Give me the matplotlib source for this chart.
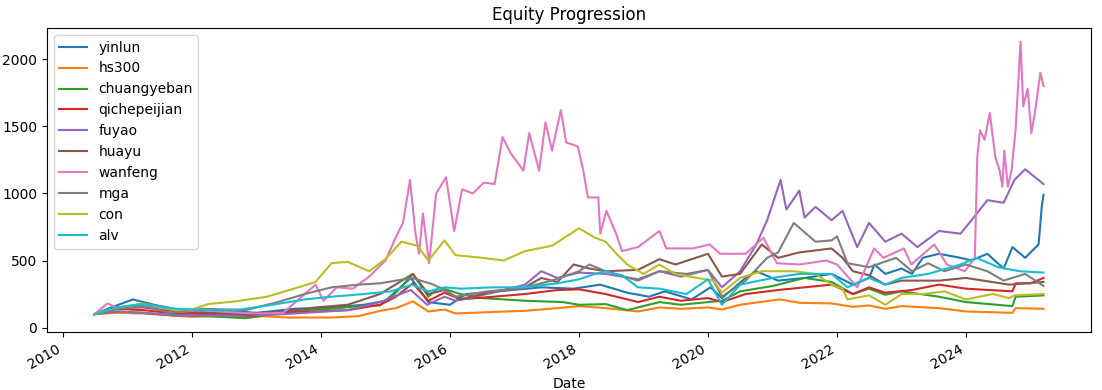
import matplotlib
matplotlib.use("Agg")
import matplotlib.pyplot as plt
import matplotlib.dates as mdates
import pandas as pd

# (date, normalised equity) key points, start = 100
yinlun = [("2010-06-28", 100), ("2010-10-01", 150), ("2011-02-01", 210), ("2011-06-01", 170),
          ("2011-11-01", 130), ("2012-06-01", 130), ("2013-01-01", 110), ("2013-08-01", 140),
          ("2014-03-01", 150), ("2014-09-01", 170), ("2015-01-01", 200), ("2015-05-25", 370),
          ("2015-09-01", 190), ("2016-01-01", 170), ("2016-04-01", 250), ("2016-10-01", 270),
          ("2017-06-01", 300), ("2017-12-01", 290), ("2018-05-01", 320), ("2018-10-01", 260),
          ("2019-02-01", 230), ("2019-05-01", 270), ("2019-10-01", 210), ("2020-01-15", 300),
          ("2020-03-20", 220), ("2020-08-01", 370), ("2020-10-01", 420), ("2021-02-01", 350),
          ("2021-07-01", 370), ("2021-12-01", 400), ("2022-04-01", 320), ("2022-07-01", 370),
          ("2022-08-01", 470), ("2022-10-01", 400), ("2023-01-01", 440), ("2023-03-01", 400),
          ("2023-05-01", 520), ("2023-08-01", 550), ("2023-12-01", 520), ("2024-02-01", 500),
          ("2024-05-01", 550), ("2024-08-01", 440), ("2024-09-20", 600), ("2024-12-01", 520),
          ("2025-02-15", 620), ("2025-03-05", 900), ("2025-03-15", 990)]

hs300 = [("2010-06-28", 100), ("2010-11-01", 110), ("2011-04-01", 105), ("2011-09-01", 90),
         ("2012-01-01", 80), ("2012-05-01", 85), ("2012-11-01", 75), ("2013-02-01", 85),
         ("2013-07-01", 75), ("2014-03-01", 75), ("2014-08-01", 85), ("2014-12-01", 125),
         ("2015-03-01", 145), ("2015-06-05", 195), ("2015-09-01", 120), ("2015-12-01", 135),
         ("2016-02-01", 105), ("2016-08-01", 115), ("2017-03-01", 125), ("2017-09-01", 145),
         ("2018-01-01", 160), ("2018-06-01", 145), ("2018-12-01", 120), ("2019-04-01", 150),
         ("2019-08-01", 140), ("2020-01-01", 150), ("2020-03-20", 135), ("2020-07-01", 170),
         ("2021-02-10", 210), ("2021-06-01", 185), ("2021-12-01", 180), ("2022-04-01", 155),
         ("2022-07-01", 165), ("2022-10-01", 140), ("2023-01-01", 160), ("2023-08-01", 145),
         ("2024-01-01", 120), ("2024-09-20", 110), ("2024-10-08", 145), ("2025-03-15", 140)]

chuangyeban = [("2010-06-28", 100), ("2010-11-01", 120), ("2011-04-01", 110), ("2011-10-01", 90),
               ("2012-04-01", 85), ("2012-11-01", 70), ("2013-05-01", 105), ("2013-10-01", 130),
               ("2014-03-01", 140), ("2014-08-01", 160), ("2014-12-01", 165), ("2015-03-01", 260),
               ("2015-06-05", 400), ("2015-09-01", 230), ("2015-11-01", 300), ("2016-03-01", 250),
               ("2016-07-01", 220), ("2017-03-01", 200), ("2017-10-01", 190), ("2018-01-01", 170),
               ("2018-06-01", 175), ("2018-10-01", 130), ("2019-04-01", 190), ("2019-08-01", 170),
               ("2020-01-01", 190), ("2020-03-20", 200), ("2020-07-01", 270), ("2021-01-01", 310),
               ("2021-07-01", 370), ("2021-12-01", 340), ("2022-04-01", 250), ("2022-07-01", 290),
               ("2022-10-01", 245), ("2023-01-01", 270), ("2023-08-01", 230), ("2024-01-01", 190),
               ("2024-09-20", 160), ("2024-10-08", 230), ("2025-03-15", 240)]

qichepeijian = [("2010-06-28", 100), ("2010-11-01", 140), ("2011-04-01", 130), ("2011-10-01", 105),
                ("2012-06-01", 100), ("2012-12-01", 85), ("2013-06-01", 110), ("2013-12-01", 120),
                ("2014-06-01", 130), ("2014-12-01", 170), ("2015-03-01", 230), ("2015-06-05", 330),
                ("2015-09-01", 200), ("2015-12-01", 260), ("2016-03-01", 210), ("2016-09-01", 230),
                ("2017-03-01", 250), ("2017-09-01", 280), ("2018-01-01", 285), ("2018-06-01", 250),
                ("2018-12-01", 190), ("2019-04-01", 230), ("2019-08-01", 200), ("2020-01-01", 220),
                ("2020-03-20", 190), ("2020-08-01", 250), ("2021-02-01", 280), ("2021-07-01", 300),
                ("2021-12-01", 320), ("2022-04-01", 250), ("2022-07-01", 300), ("2022-10-01", 260),
                ("2023-03-01", 280), ("2023-08-01", 320), ("2024-01-01", 290), ("2024-09-20", 270),
                ("2024-10-08", 330), ("2025-01-01", 330), ("2025-03-15", 370)]

fuyao = [("2010-06-28", 100), ("2010-11-01", 120), ("2011-04-01", 110), ("2011-10-01", 90),
         ("2012-06-01", 90), ("2012-12-01", 90), ("2013-06-01", 100), ("2013-12-01", 115),
         ("2014-06-01", 130), ("2014-12-01", 190), ("2015-05-25", 280), ("2015-08-25", 170),
         ("2015-12-01", 230), ("2016-02-01", 200), ("2016-09-01", 260), ("2017-03-01", 320),
         ("2017-06-01", 420), ("2017-09-01", 370), ("2018-01-01", 410), ("2018-06-01", 400),
         ("2018-12-01", 360), ("2019-04-01", 420), ("2019-08-01", 380), ("2020-01-01", 430),
         ("2020-03-20", 300), ("2020-07-01", 420), ("2020-10-01", 620), ("2020-12-01", 800),
         ("2021-02-15", 1100), ("2021-03-20", 880), ("2021-06-01", 1020), ("2021-07-01", 820),
         ("2021-09-01", 900), ("2021-12-01", 800), ("2022-02-01", 870), ("2022-04-25", 600),
         ("2022-07-01", 780), ("2022-10-01", 640), ("2023-01-01", 700), ("2023-04-01", 600),
         ("2023-08-01", 720), ("2023-12-01", 700), ("2024-02-01", 800), ("2024-05-01", 950),
         ("2024-08-01", 930), ("2024-10-01", 1100), ("2024-12-01", 1180), ("2025-03-15", 1070)]

huayu = [("2010-06-28", 100), ("2010-11-01", 150), ("2011-04-01", 150), ("2011-10-01", 120),
         ("2012-06-01", 110), ("2012-12-01", 95), ("2013-06-01", 120), ("2013-12-01", 150),
         ("2014-06-01", 170), ("2014-12-01", 250), ("2015-06-05", 400), ("2015-09-01", 250),
         ("2015-12-01", 280), ("2016-03-01", 210), ("2016-09-01", 270), ("2017-03-01", 300),
         ("2017-06-01", 370), ("2017-09-01", 340), ("2017-12-01", 470), ("2018-03-01", 440),
         ("2018-06-01", 420), ("2018-12-01", 430), ("2019-04-01", 510), ("2019-07-01", 470),
         ("2020-01-01", 550), ("2020-03-20", 380), ("2020-07-01", 400), ("2020-11-01", 620),
         ("2021-02-01", 520), ("2021-06-01", 560), ("2021-12-01", 590), ("2022-02-01", 520),
         ("2022-04-01", 420), ("2022-07-01", 390), ("2022-10-01", 320), ("2023-01-01", 350),
         ("2023-08-01", 350), ("2024-01-01", 370), ("2024-09-01", 320), ("2025-03-15", 340)]

wanfeng = [("2010-06-28", 100), ("2010-09-10", 180), ("2010-11-01", 150), ("2011-03-01", 160),
           ("2011-07-01", 150), ("2011-11-01", 120), ("2012-03-01", 130), ("2012-08-01", 115),
           ("2013-01-01", 105), ("2013-06-01", 110), ("2013-12-01", 320), ("2014-01-15", 200),
           ("2014-04-01", 300), ("2014-07-01", 290), ("2014-10-01", 380), ("2015-01-01", 500),
           ("2015-03-10", 700), ("2015-04-10", 780), ("2015-05-20", 1100), ("2015-06-20", 700),
           ("2015-07-10", 550), ("2015-08-01", 850), ("2015-09-05", 480), ("2015-10-15", 1000),
           ("2015-12-10", 1120), ("2016-01-25", 720), ("2016-03-10", 1030), ("2016-05-10", 1000),
           ("2016-07-10", 1080), ("2016-09-10", 1070), ("2016-10-25", 1420), ("2016-12-10", 1300),
           ("2017-02-20", 1170), ("2017-03-25", 1450), ("2017-05-20", 1170), ("2017-06-25", 1530),
           ("2017-08-01", 1320), ("2017-09-20", 1620), ("2017-10-20", 1380), ("2017-12-25", 1350),
           ("2018-01-25", 1170), ("2018-02-20", 970), ("2018-04-20", 970), ("2018-05-01", 700),
           ("2018-06-05", 870), ("2018-07-30", 700), ("2018-09-01", 570), ("2018-12-01", 600),
           ("2019-04-01", 720), ("2019-05-10", 590), ("2019-10-10", 590), ("2020-01-10", 620),
           ("2020-03-10", 550), ("2020-08-01", 550), ("2020-11-10", 670), ("2021-01-25", 480),
           ("2021-06-01", 470), ("2021-11-01", 500), ("2022-01-01", 470), ("2022-04-25", 300),
           ("2022-07-30", 590), ("2022-09-20", 520), ("2023-01-15", 590), ("2023-02-25", 470),
           ("2023-07-05", 620), ("2023-09-15", 470), ("2023-12-25", 420), ("2024-02-20", 520),
           ("2024-03-05", 1270), ("2024-03-20", 1470), ("2024-04-15", 1400), ("2024-05-15", 1600),
           ("2024-06-15", 1270), ("2024-07-10", 1170), ("2024-07-25", 1050), ("2024-08-05", 1320),
           ("2024-08-25", 1050), ("2024-09-15", 1170), ("2024-10-08", 1480), ("2024-11-05", 2130),
           ("2024-11-20", 1650), ("2024-12-15", 1780), ("2025-01-05", 1450), ("2025-01-25", 1600),
           ("2025-02-25", 1900), ("2025-03-15", 1800)]

mga = [("2010-06-28", 100), ("2010-11-01", 140), ("2011-04-01", 160), ("2011-09-01", 110),
       ("2012-03-01", 140), ("2012-11-01", 130), ("2013-05-01", 190), ("2013-10-01", 250),
       ("2014-03-01", 300), ("2014-08-01", 320), ("2014-12-01", 330), ("2015-06-01", 370),
       ("2015-10-01", 320), ("2016-02-01", 230), ("2016-08-01", 270), ("2017-02-01", 290),
       ("2017-08-01", 350), ("2018-01-01", 420), ("2018-03-01", 470), ("2018-06-01", 420),
       ("2018-12-01", 350), ("2019-04-01", 420), ("2019-09-01", 400), ("2020-01-01", 430),
       ("2020-03-20", 230), ("2020-08-01", 350), ("2020-12-01", 520), ("2021-02-01", 560),
       ("2021-05-01", 780), ("2021-09-01", 640), ("2021-12-01", 650), ("2022-01-01", 680),
       ("2022-03-01", 480), ("2022-07-01", 450), ("2022-12-01", 520), ("2023-03-01", 420),
       ("2023-06-01", 480), ("2023-09-01", 420), ("2024-01-01", 470), ("2024-05-01", 420),
       ("2024-08-01", 350), ("2024-12-01", 400), ("2025-03-15", 310)]

con = [("2010-06-28", 100), ("2010-11-01", 150), ("2011-04-01", 180), ("2011-10-01", 130),
       ("2012-01-01", 135), ("2012-04-01", 175), ("2012-09-01", 195), ("2013-03-01", 230),
       ("2013-08-01", 290), ("2013-12-01", 340), ("2014-03-01", 480), ("2014-06-01", 490),
       ("2014-10-01", 420), ("2015-01-01", 510), ("2015-04-01", 640), ("2015-07-01", 610),
       ("2015-09-01", 500), ("2015-12-01", 650), ("2016-02-01", 540), ("2016-07-01", 520),
       ("2016-11-01", 500), ("2017-03-01", 570), ("2017-08-01", 610), ("2018-01-01", 740),
       ("2018-04-01", 670), ("2018-06-01", 640), ("2018-08-01", 550), ("2018-10-01", 470),
       ("2019-01-01", 400), ("2019-04-01", 470), ("2019-07-01", 400), ("2019-11-01", 370),
       ("2020-02-01", 350), ("2020-03-20", 260), ("2020-07-01", 370), ("2020-11-01", 420),
       ("2021-05-01", 420), ("2021-09-01", 400), ("2021-12-01", 320), ("2022-02-01", 290),
       ("2022-03-01", 210), ("2022-07-01", 240), ("2022-10-01", 170), ("2023-01-01", 250),
       ("2023-05-01", 250), ("2023-09-01", 270), ("2024-01-01", 210), ("2024-06-01", 250),
       ("2024-09-01", 220), ("2024-10-01", 240), ("2025-03-15", 250)]

alv = [("2010-06-28", 100), ("2010-11-01", 150), ("2011-04-01", 175), ("2011-10-01", 140),
       ("2012-04-01", 130), ("2012-10-01", 135), ("2013-04-01", 170), ("2013-10-01", 210),
       ("2014-03-01", 230), ("2014-09-01", 250), ("2015-02-01", 270), ("2015-06-01", 320),
       ("2015-09-01", 270), ("2015-12-01", 300), ("2016-03-01", 290), ("2016-09-01", 300),
       ("2017-03-01", 300), ("2017-09-01", 330), ("2018-01-01", 360), ("2018-04-01", 400),
       ("2018-06-01", 420), ("2018-09-01", 390), ("2018-12-01", 300), ("2019-04-01", 290),
       ("2019-09-01", 250), ("2020-01-01", 360), ("2020-03-20", 170), ("2020-07-01", 320),
       ("2021-01-01", 370), ("2021-06-01", 400), ("2021-12-01", 400), ("2022-03-01", 300),
       ("2022-07-01", 370), ("2022-10-01", 320), ("2023-01-01", 370), ("2023-06-01", 400),
       ("2023-12-01", 470), ("2024-03-01", 520), ("2024-07-01", 450), ("2024-11-01", 420),
       ("2025-03-15", 410)]

names = ["yinlun", "hs300", "chuangyeban", "qichepeijian", "fuyao",
         "huayu", "wanfeng", "mga", "con", "alv"]
series = [yinlun, hs300, chuangyeban, qichepeijian, fuyao,
          huayu, wanfeng, mga, con, alv]

fig = plt.figure(figsize=(11.02, 3.9), dpi=100)
ax = fig.add_axes([0.0426, 0.1487, 0.9474, 0.7795])

for name, pts in zip(names, series):
    d = pd.to_datetime([p[0] for p in pts])
    v = [p[1] for p in pts]
    ax.plot(d, v, label=name, linewidth=1.5)

ax.xaxis.set_major_locator(mdates.YearLocator(2))
ax.xaxis.set_major_formatter(mdates.DateFormatter("%Y"))
for lbl in ax.get_xticklabels():
    lbl.set_rotation(30)
    lbl.set_ha("right")

ax.set_title("Equity Progression")
ax.set_xlabel("Date")
ax.legend(loc="upper left")

fig.savefig("out.png", dpi=100)
